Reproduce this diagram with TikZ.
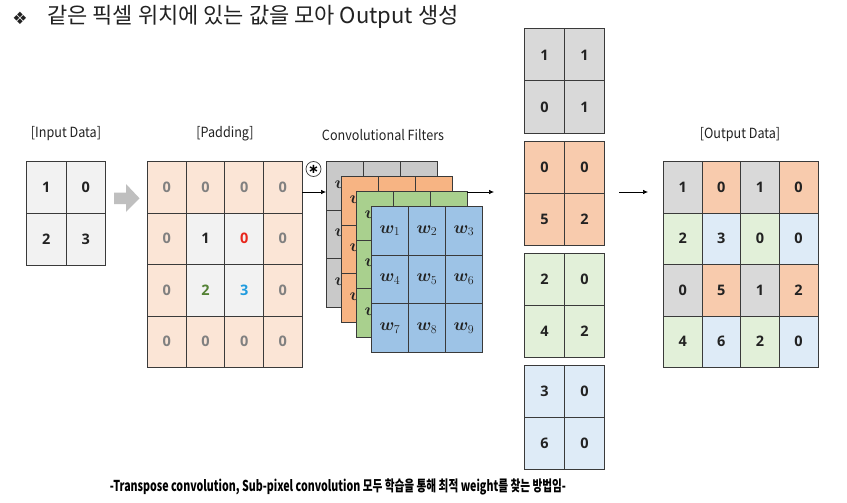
\documentclass[tikz,border=0pt]{standalone}
\usepackage{fontspec}
\usepackage{bm}
\usetikzlibrary{arrows.meta}
\setmainfont{Noto Sans CJK KR}
\newfontfamily\titlefont{Noto Sans CJK KR}
\newfontfamily\labfont[FakeStretch=0.9]{Noto Sans CJK KR}
\newfontfamily\botfont[FakeStretch=0.71]{Noto Sans CJK KR}
\newfontfamily\symfont{DejaVu Sans}
\newfontfamily\numfont{Open Sans}
\definecolor{linec}{HTML}{3A3A3A}
\definecolor{ingray}{HTML}{F2F2F2}
\definecolor{peach}{HTML}{FBE5D6}
\definecolor{fgray}{HTML}{C9C9C9}
\definecolor{forange}{HTML}{F7B483}
\definecolor{fgreen}{HTML}{A9D08E}
\definecolor{fblue}{HTML}{9DC3E6}
\definecolor{sgray}{HTML}{D9D9D9}
\definecolor{sorange}{HTML}{F8CBAD}
\definecolor{sgreen}{HTML}{E2F0D9}
\definecolor{sblue}{HTML}{DEEBF7}
\definecolor{padnum}{HTML}{808080}
\definecolor{rednum}{HTML}{E8261C}
\definecolor{greennum}{HTML}{548235}
\definecolor{bluenum}{HTML}{1F9BDE}
\definecolor{txt}{HTML}{222222}
\definecolor{arrowgray}{HTML}{BFBFBF}
\begin{document}
\begin{tikzpicture}[x=1pt,y=-1pt]
\tikzset{
  cell/.style={draw=linec, line width=0.8pt, inner sep=0pt, anchor=north west,
    font=\numfont\bfseries\fontsize{14.5}{14.5}\selectfont, text=txt},
  incell/.style={cell, minimum width=39.5pt, minimum height=52pt},
  padcell/.style={cell, minimum width=38.7pt, minimum height=51.5pt},
  fcell/.style={cell, minimum width=37pt, minimum height=48.7pt, font=\fontsize{18}{18}\selectfont},
  scell/.style={cell, minimum width=40pt, minimum height=52pt},
  lab/.style={font=\labfont\fontsize{14}{14}\selectfont, text=txt, inner sep=0pt},
  conn/.style={draw=black, line width=0.7pt, -{Latex[length=5pt,width=4.5pt]}},
}
\useasboundingbox (0,0) rectangle (847,503);
\fill[white] (0,0) rectangle (847,503);

% title
\node[font=\symfont\fontsize{17}{17}\selectfont, text=txt] (bullet) at (20,18) {❖};
\node[anchor=west, font=\titlefont\fontsize{22}{22}\selectfont, text=txt, inner sep=0pt] (title) at (47,17) {같은 픽셀 위치에 있는 값을 모아 Output 생성};

% labels
\node[lab] (inlab) at (66,134) {[Input Data]};
\node[lab] (padlab) at (225,134) {[Padding]};
\node[lab] (convlab) at (383,135) {Convolutional Filters};
\node[lab] (outlab) at (740,135) {[Output Data]};

% input
\foreach \r/\c/\t in {1/1/1,1/2/0,2/1/2,2/2/3}
  \node[incell, fill=ingray] (in-\r-\c) at ({26+39.5*(\c-1)},{161+52*(\r-1)}) {\t};

% gray block arrow
\fill[arrowgray] (114,192.5) -- (126,192.5) -- (126,184) -- (139.5,198.3) -- (126,212) -- (126,204) -- (114,204) -- cycle;

% padding
\foreach \r/\c/\f/\tc/\t in {
  1/1/peach/padnum/0, 1/2/peach/padnum/0, 1/3/peach/padnum/0, 1/4/peach/padnum/0,
  2/1/peach/padnum/0, 2/2/ingray/txt/1, 2/3/ingray/rednum/0, 2/4/peach/padnum/0,
  3/1/peach/padnum/0, 3/2/ingray/greennum/2, 3/3/ingray/bluenum/3, 3/4/peach/padnum/0,
  4/1/peach/padnum/0, 4/2/peach/padnum/0, 4/3/peach/padnum/0, 4/4/peach/padnum/0}
  \node[padcell, fill=\f, text=\tc] (pad-\r-\c) at ({147+38.7*(\c-1)},{161+51.5*(\r-1)}) {\t};

% convolution symbol
\node[circle, draw=linec, line width=0.7pt, minimum size=15pt, inner sep=0pt, font=\symfont\bfseries\fontsize{13}{13}\selectfont] (conv) at (313.5,169) {∗};

% filters
\foreach \k/\col in {0/fgray,1/forange,2/fgreen,3/fblue} {
  \foreach \r in {1,2,3} {
    \foreach \c in {1,2,3} {
      \pgfmathtruncatemacro\n{3*(\r-1)+\c}
      \node[fcell, fill=\col] (f\k-\r-\c) at ({326+15*\k+37*(\c-1)},{161+15*\k+48.7*(\r-1)}) {$\bm{w}_{\n}$};
    }
  }
}

% arrows
\coordinate (a1s) at (302,192);
\coordinate (a1e) at (326,192);
\coordinate (a2s) at (467,192);
\coordinate (a2e) at (494,192);
\coordinate (a3s) at (619,192);
\coordinate (a3e) at (648,192);
\draw[conn] (a1s) -- (a1e);
\draw[conn] (a2s) -- (a2e);
\draw[conn] (a3s) -- (a3e);

% small output grids
\foreach \k/\col/\a/\b/\cc/\d in {0/sgray/1/1/0/1, 1/sorange/0/0/5/2, 2/sgreen/2/0/4/2, 3/sblue/3/0/6/0} {
  \node[scell, fill=\col] (s\k-1-1) at (524,{28.5+112.2*\k}) {\a};
  \node[scell, fill=\col] (s\k-1-2) at (564,{28.5+112.2*\k}) {\b};
  \node[scell, fill=\col] (s\k-2-1) at (524,{80.5+112.2*\k}) {\cc};
  \node[scell, fill=\col] (s\k-2-2) at (564,{80.5+112.2*\k}) {\d};
}

% output
\foreach \r/\c/\f/\t in {
  1/1/sgray/1, 1/2/sorange/0, 1/3/sgray/1, 1/4/sorange/0,
  2/1/sgreen/2, 2/2/sblue/3, 2/3/sgreen/0, 2/4/sblue/0,
  3/1/sgray/0, 3/2/sorange/5, 3/3/sgray/1, 3/4/sorange/2,
  4/1/sgreen/4, 4/2/sblue/6, 4/3/sgreen/2, 4/4/sblue/0}
  \node[padcell, fill=\f] (out-\r-\c) at ({663+38.6*(\c-1)},{161+51.5*(\r-1)}) {\t};

% bottom text
\node[font=\botfont\bfseries\fontsize{15}{15}\selectfont, text=black, inner sep=0pt] (bottom) at (338,487) {-Transpose convolution, Sub-pixel convolution 모두 학습을 통해 최적 weight를 찾는 방법임-};
\end{tikzpicture}
\end{document}
